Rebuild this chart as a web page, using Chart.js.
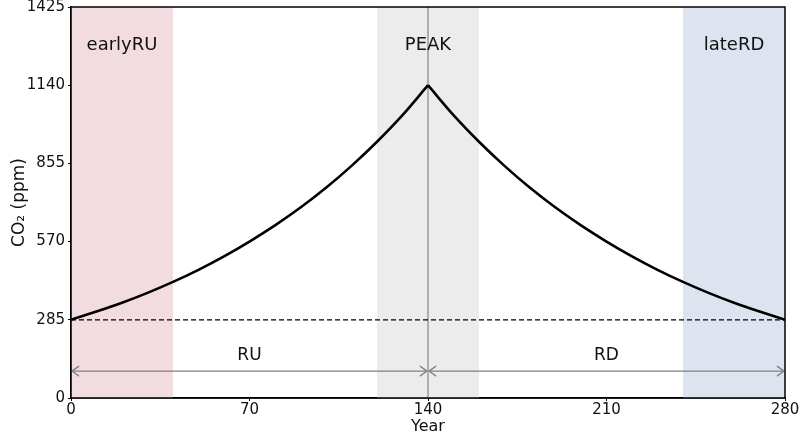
<!DOCTYPE html>
<html>
<head>
<meta charset="UTF-8">
<script src="https://cdn.jsdelivr.net/npm/chart.js"></script>
<style>
  html, body { margin: 0; padding: 0; background: #fff; }
  #wrap { width: 800px; height: 436px; }
</style>
</head>
<body>
<div id="wrap"><canvas id="c" width="800" height="436"></canvas></div>
<script>
// values
const years = [0, 10, 20, 30, 40, 50, 60, 70, 80, 90, 100, 110, 120, 130, 140,
               150, 160, 170, 180, 190, 200, 210, 220, 230, 240, 250, 260, 270, 280];
const co2 = [285, 315, 347, 383, 423, 467, 516, 570, 629, 694, 766, 846, 934, 1031, 1140,
             1031, 934, 846, 766, 694, 629, 570, 516, 467, 423, 383, 347, 315, 285];
const xTicks = [0, 70, 140, 210, 280];
const yTicks = [0, 285, 570, 855, 1140, 1425];
const baseline = 285;
const peakYear = 140;

const bandLabels = ['earlyRU', 'PEAK', 'lateRD'];
const bandStart = [0, 120, 240];
const bandEnd = [40, 160, 280];
const bandLabelY = 1285;

const phaseLabels = ['RU', 'RD'];
const phaseStart = [0, 140];
const phaseEnd = [140, 280];
const phaseArrowY = 98;
const phaseLabelY = 155;

const FONT = "'DejaVu Sans', sans-serif";
const bandColors = ['#f3dcdf', '#ececec', '#dee4ef'];

const pts = years.map((yr, i) => ({ x: yr, y: co2[i] }));
const peakIdx = years.indexOf(peakYear);

const decor = {
  id: 'decor',
  beforeDatasetsDraw(chart) {
    const { ctx, chartArea: a, scales: { x, y } } = chart;
    ctx.save();
    // shaded bands
    bandStart.forEach((s, i) => {
      const x0 = x.getPixelForValue(s), x1 = x.getPixelForValue(bandEnd[i]);
      ctx.fillStyle = bandColors[i];
      ctx.fillRect(x0, a.top, x1 - x0, a.bottom - a.top);
    });
    // peak vertical line
    const px = x.getPixelForValue(peakYear);
    ctx.strokeStyle = '#9a9a9a';
    ctx.lineWidth = 1.5;
    ctx.beginPath(); ctx.moveTo(px, a.top); ctx.lineTo(px, a.bottom); ctx.stroke();
    // baseline dashed
    const by = y.getPixelForValue(baseline);
    ctx.strokeStyle = '#000';
    ctx.lineWidth = 1.2;
    ctx.setLineDash([5, 3]);
    ctx.beginPath(); ctx.moveTo(a.left, by); ctx.lineTo(a.right, by); ctx.stroke();
    ctx.setLineDash([]);
    // double arrows
    ctx.strokeStyle = '#808080';
    ctx.lineWidth = 1.3;
    const ay = y.getPixelForValue(phaseArrowY);
    const head = (hx, dir) => {
      ctx.beginPath();
      ctx.moveTo(hx - dir * 7, ay - 5);
      ctx.lineTo(hx, ay);
      ctx.lineTo(hx - dir * 7, ay + 5);
      ctx.stroke();
    };
    phaseStart.forEach((s, i) => {
      const x0 = x.getPixelForValue(s) + 1, x1 = x.getPixelForValue(phaseEnd[i]) - 1;
      ctx.beginPath(); ctx.moveTo(x0, ay); ctx.lineTo(x1, ay); ctx.stroke();
      head(x0, -1); head(x1, 1);
    });
    // text
    ctx.fillStyle = '#111';
    ctx.textAlign = 'center';
    ctx.textBaseline = 'middle';
    ctx.font = '18px ' + FONT;
    bandLabels.forEach((t, i) => {
      ctx.fillText(t, x.getPixelForValue((bandStart[i] + bandEnd[i]) / 2), y.getPixelForValue(bandLabelY));
    });
    ctx.font = '17px ' + FONT;
    phaseLabels.forEach((t, i) => {
      ctx.fillText(t, x.getPixelForValue((phaseStart[i] + phaseEnd[i]) / 2), y.getPixelForValue(phaseLabelY));
    });
    ctx.restore();
  },
  afterDraw(chart) {
    const { ctx, chartArea: a } = chart;
    ctx.save();
    ctx.strokeStyle = '#000';
    ctx.lineWidth = 1.5;
    ctx.strokeRect(a.left, a.top, a.right - a.left, a.bottom - a.top);
    ctx.restore();
  }
};

const curve = {
  borderColor: '#000',
  borderWidth: 2.6,
  pointRadius: 0,
  cubicInterpolationMode: 'monotone',
  fill: false
};

new Chart(document.getElementById('c'), {
  type: 'line',
  data: {
    datasets: [
      Object.assign({ data: pts.slice(0, peakIdx + 1) }, curve),
      Object.assign({ data: pts.slice(peakIdx) }, curve)
    ]
  },
  options: {
    responsive: false,
    animation: false,
    layout: { padding: { left: 9, right: 15, top: 7, bottom: 0 } },
    plugins: { legend: { display: false }, tooltip: { enabled: false } },
    scales: {
      x: {
        type: 'linear', min: 0, max: 280,
        afterBuildTicks(s) { s.ticks = xTicks.map(v => ({ value: v })); },
        afterFit(s) { s.height = 38; s.paddingLeft = 0; s.paddingRight = 0; },
        ticks: { color: '#111', font: { family: FONT, size: 15 }, padding: 0, maxRotation: 0,
                 callback: v => String(v) },
        grid: { drawOnChartArea: false, tickLength: 3, color: '#000' },
        border: { color: '#000', width: 1.5 },
        title: { display: true, text: 'Year', color: '#111', font: { family: FONT, size: 16 }, padding: { top: 0, bottom: 0 } }
      },
      y: {
        type: 'linear', min: 0, max: 1425,
        afterBuildTicks(s) { s.ticks = yTicks.map(v => ({ value: v })); },
        afterFit(s) { s.width = 62; s.paddingTop = 0; s.paddingBottom = 0; },
        ticks: { color: '#111', font: { family: FONT, size: 15 }, padding: 3,
                 callback: v => String(v) },
        grid: { drawOnChartArea: false, tickLength: 3, color: '#000' },
        border: { color: '#000', width: 1.5 },
        title: { display: true, text: 'CO₂ (ppm)', color: '#111', font: { family: FONT, size: 17 }, padding: { top: 0, bottom: 4 } }
      }
    }
  },
  plugins: [decor]
});
</script>
</body>
</html>
